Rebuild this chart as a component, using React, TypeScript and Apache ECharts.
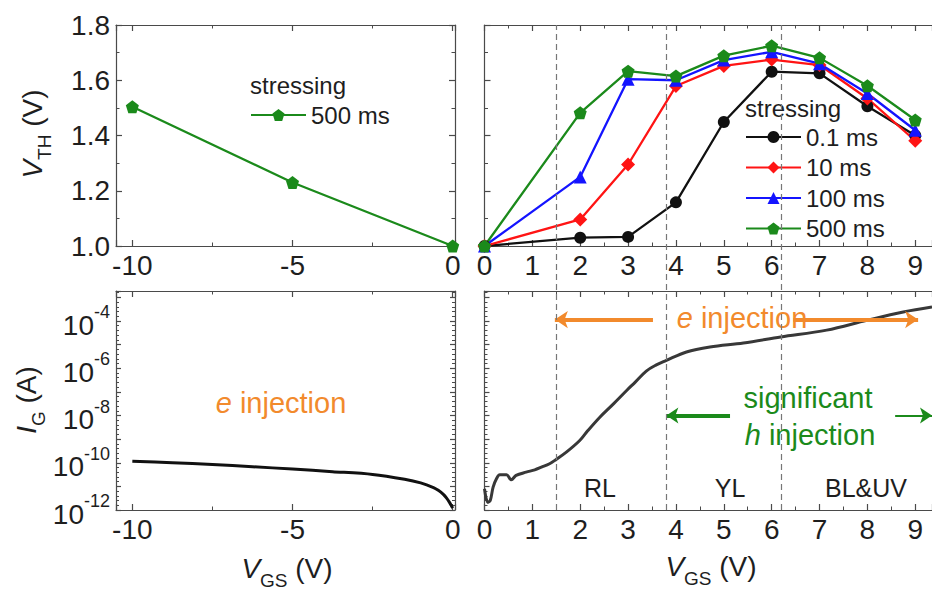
import React, { useEffect, useRef } from 'react';
import * as echarts from 'echarts';

const FONT = 'Liberation Sans, Arial, sans-serif';

// ---- Top-left: V_TH after negative V_GS stressing (500 ms)
const negVgs = [-10, -5, 0];
const negVth500 = [1.504, 1.23, 1.0];

// ---- Top-right: V_TH after positive V_GS stressing
const posVgs = [0, 2, 3, 4, 5, 6, 7, 8, 9];
const vth01 = [1.0, 1.03, 1.033, 1.158, 1.449, 1.631, 1.625, 1.506, 1.4];
const vth10 = [1.0, 1.096, 1.295, 1.579, 1.652, 1.675, 1.655, 1.534, 1.381];
const vth100 = [1.0, 1.25, 1.604, 1.6, 1.673, 1.703, 1.66, 1.552, 1.419];
const vth500 = [1.0, 1.482, 1.633, 1.615, 1.689, 1.725, 1.681, 1.58, 1.456];
const stressNames = ['0.1 ms', '10 ms', '100 ms', '500 ms'];

// ---- Bottom-left: I_G vs negative V_GS (A)
const igNegVgs = [-10, -8.75, -7.5, -6.25, -5, -3.75, -2.5, -1.5, -1, -0.6, -0.45, -0.3, -0.19, -0.1, 0];
const igNeg = [1.17e-10, 1.0e-10, 8.5e-11, 6.8e-11, 5.4e-11, 4.2e-11, 3.2e-11, 2.0e-11, 1.4e-11, 8.9e-12, 6.8e-12, 4.7e-12, 3.2e-12, 2.1e-12, 1.2e-12];

// ---- Bottom-right: I_G vs positive V_GS (A)
const igPosVgs = [0, 0.07, 0.12, 0.18, 0.25, 0.32, 0.46, 0.56, 0.66, 0.87, 1.05, 1.19, 1.36, 1.49, 1.71, 1.99, 2.16, 2.41, 2.7, 2.97, 3.15, 3.38, 3.58, 3.79, 4.22, 4.71, 5.41, 6.19, 7.15, 7.99, 8.75, 9.35];
const igPos = [7.9e-12, 2.1e-12, 2.5e-12, 9.3e-12, 2.1e-11, 3.1e-11, 3.1e-11, 1.9e-11, 2.9e-11, 4.0e-11, 5.0e-11, 6.5e-11, 9.1e-11, 1.35e-10, 2.8e-10, 8.7e-10, 2.3e-9, 8.5e-9, 3.2e-8, 1.15e-7, 2.6e-7, 7.6e-7, 1.35e-6, 2.1e-6, 4.9e-6, 7.9e-6, 1.17e-5, 2.1e-5, 4.1e-5, 1.07e-4, 2.4e-4, 3.9e-4];

// ---- Annotations (data space)
const regionBounds = [1.5, 3.8, 6.2];
const eArrowLevel = 1.15e-4;
const eArrows = [[3.52, 1.47], [6.45, 9.06]];
const hArrowLevel = 1.0e-8;
const hArrows = [[5.13, 3.8], [8.58, 9.35]];

const GREEN = '#1b8a1b';
const RED = '#ff1414';
const BLUE = '#1414ff';
const BLACK = '#111111';
const ORANGE = '#f28a2c';
const TXT = '#1e1e1e';
const AX = '#4a4a4a';

const PENTAGON = 'path://M10,0 L19.51,6.91 L15.88,18.09 L4.12,18.09 L0.49,6.91 Z';

const lg = (v: number) => Math.log10(v);
const zip = (xs: number[], ys: number[]) => xs.map((x, i) => [x, ys[i]]);

const axLine = { show: true, onZero: false, lineStyle: { color: AX, width: 1.2 } };
const majorTick = (len: number) => ({ show: true, inside: true, length: len, lineStyle: { color: AX, width: 1.2 } });
const minorTick = (n: number, len: number) => ({ show: true, splitNumber: n, length: len, lineStyle: { color: AX, width: 1 } });
const noSplit = { show: false };
const tickFont = { fontSize: 28, color: TXT, fontFamily: FONT };

function negX(gridIndex: number, position: string, labels: boolean) {
  return {
    type: 'value', gridIndex, position, min: -10.51, max: 0.072, splitNumber: 2,
    axisLine: axLine, axisTick: majorTick(6), minorTick: minorTick(2, 3.5), splitLine: noSplit, minorSplitLine: noSplit,
    axisLabel: {
      show: labels, ...tickFont, margin: 5,
      formatter: (v: number) => (Math.abs(v / 5 - Math.round(v / 5)) < 1e-6 ? String(Math.round(v)) : ''),
    },
  };
}
function posX(gridIndex: number, position: string, labels: boolean) {
  return {
    type: 'value', gridIndex, position, min: 0, max: 9.35, interval: 1,
    axisLine: axLine, axisTick: majorTick(6), minorTick: minorTick(2, 3.5), splitLine: noSplit, minorSplitLine: noSplit,
    axisLabel: {
      show: labels, ...tickFont, margin: 5,
      formatter: (v: number) => (Math.abs(v - Math.round(v)) < 1e-6 ? String(Math.round(v)) : ''),
    },
  };
}
function vthY(gridIndex: number, position: string, labels: boolean) {
  return {
    type: 'value', gridIndex, position, min: 1.0, max: 1.8, interval: 0.2,
    axisLine: axLine, axisTick: majorTick(6), minorTick: minorTick(2, 3.5), splitLine: noSplit, minorSplitLine: noSplit,
    axisLabel: { show: labels, ...tickFont, margin: 6, formatter: (v: number) => v.toFixed(1) },
  };
}
function igY(gridIndex: number, position: string, labels: boolean) {
  return {
    type: 'value', gridIndex, position, min: -12, max: -2.73, interval: 1,
    axisLine: axLine, axisTick: majorTick(5), minorTick: minorTick(5, 3), splitLine: noSplit, minorSplitLine: noSplit,
    axisLabel: {
      show: labels, margin: 6,
      formatter: (v: number) => {
        const r = Math.round(v);
        return Math.abs(v - r) < 1e-6 && r % 2 === 0 ? `{b|10}{s|${r}}` : '';
      },
      rich: {
        b: { fontSize: 28, lineHeight: 36, verticalAlign: 'bottom', color: TXT, fontFamily: FONT },
        s: { fontSize: 18, lineHeight: 18, verticalAlign: 'top', color: TXT, fontFamily: FONT },
      },
    },
  };
}

function titleText(x: number, y: number, main: string, sub: string, rest: string, rotate: boolean) {
  return {
    type: 'text', x, y, rotation: rotate ? Math.PI / 2 : 0, silent: true,
    style: {
      text: `{v|${main}}{s|${sub}}{n| ${rest}}`,
      align: 'center', verticalAlign: 'middle',
      rich: {
        v: { fontSize: 28, fontStyle: 'italic', lineHeight: 36, verticalAlign: 'top', fill: TXT, fontFamily: FONT },
        s: { fontSize: 19, lineHeight: 19, verticalAlign: 'bottom', fill: TXT, fontFamily: FONT },
        n: { fontSize: 28, lineHeight: 36, verticalAlign: 'top', fill: TXT, fontFamily: FONT },
      },
    },
  };
}
function plainText(x: number, y: number, text: string, fill: string, size: number, align = 'center') {
  return {
    type: 'text', x, y, silent: true,
    style: { text, fill, fontSize: size, fontFamily: FONT, align, verticalAlign: 'middle' },
  };
}
function italicLead(x: number, y: number, lead: string, rest: string, fill: string) {
  return {
    type: 'text', x, y, silent: true,
    style: {
      text: `{i|${lead}}{n| ${rest}}`, align: 'center', verticalAlign: 'middle',
      rich: {
        i: { fontSize: 29, fontStyle: 'italic', fill, fontFamily: FONT },
        n: { fontSize: 29, fill, fontFamily: FONT },
      },
    },
  };
}

function buildOption() {
  const grids = [
    { left: 116, top: 25, width: 339, height: 221 },
    { left: 484.5, top: 25, width: 447.5, height: 221 },
    { left: 116, top: 291, width: 339, height: 219 },
    { left: 484.5, top: 291, width: 447.5, height: 219 },
    { left: 484.5, top: 25, width: 447.5, height: 485 },
  ].map((g) => ({ ...g, containLabel: false, outerBoundsMode: 'none', show: false }));

  const xAxis = [
    negX(0, 'bottom', true),
    negX(0, 'top', false),
    posX(1, 'bottom', true),
    posX(1, 'top', false),
    negX(2, 'bottom', true),
    negX(2, 'top', false),
    posX(3, 'bottom', true),
    posX(3, 'top', false),
    { type: 'value', gridIndex: 4, min: 0, max: 9.35, show: false },
  ];
  const yAxis = [
    vthY(0, 'left', true),
    vthY(0, 'right', false),
    vthY(1, 'left', false),
    igY(2, 'left', true),
    igY(2, 'right', false),
    igY(3, 'left', false),
    { type: 'value', gridIndex: 4, min: 0, max: 1, show: false },
  ];

  const vthSeries = (name: string, ys: number[], color: string, symbol: string, size: number) => ({
    name, type: 'line', xAxisIndex: 2, yAxisIndex: 2, data: zip(posVgs, ys), z: 3,
    symbol, symbolSize: size, showSymbol: true,
    lineStyle: { color, width: 2.3 }, itemStyle: { color },
  });

  const series: any[] = [
    {
      name: '500 ms', type: 'line', xAxisIndex: 0, yAxisIndex: 0, data: zip(negVgs, negVth500), z: 3,
      symbol: PENTAGON, symbolSize: 13, lineStyle: { color: GREEN, width: 2.3 }, itemStyle: { color: GREEN },
    },
    vthSeries(stressNames[0], vth01, BLACK, 'circle', 12),
    vthSeries(stressNames[1], vth10, RED, 'diamond', 14),
    vthSeries(stressNames[2], vth100, BLUE, 'triangle', 13),
    vthSeries(stressNames[3], vth500, GREEN, PENTAGON, 13),
    {
      name: 'IG neg', type: 'line', xAxisIndex: 4, yAxisIndex: 3, z: 3,
      data: zip(igNegVgs, igNeg.map(lg)), showSymbol: false, symbol: 'none', smooth: 0.3,
      lineStyle: { color: BLACK, width: 3 },
    },
    {
      name: 'IG pos', type: 'line', xAxisIndex: 6, yAxisIndex: 5, z: 4,
      data: zip(igPosVgs, igPos.map(lg)), showSymbol: false, symbol: 'none', smooth: 0.35,
      lineStyle: { color: '#383838', width: 3 },
      markLine: {
        silent: true, symbol: ['none', 'arrow'], symbolSize: 13, label: { show: false },
        lineStyle: { color: ORANGE, width: 4, type: 'solid' },
        data: eArrows.map(([a, b]) => [
          { coord: [a, lg(eArrowLevel)] },
          { coord: [b, lg(eArrowLevel)] },
        ]),
      },
    },
    {
      name: 'h arrows', type: 'line', xAxisIndex: 6, yAxisIndex: 5, z: 3,
      data: [[0, -12]], showSymbol: false, symbol: 'none', lineStyle: { width: 0, opacity: 0 },
      markLine: {
        silent: true, symbol: ['none', 'arrow'], symbolSize: 12, label: { show: false },
        lineStyle: { color: GREEN, width: 4, type: 'solid' },
        data: hArrows.map(([a, b], i) => [
          { coord: [a, lg(hArrowLevel)], lineStyle: { color: GREEN, width: i === 0 ? 4 : 2, type: 'solid' } },
          { coord: [b, lg(hArrowLevel)] },
        ]),
      },
    },
    {
      name: 'regions', type: 'line', xAxisIndex: 8, yAxisIndex: 6, z: 1,
      data: [[0, 0]], showSymbol: false, symbol: 'none', lineStyle: { width: 0, opacity: 0 },
      markLine: {
        silent: true, symbol: ['none', 'none'], label: { show: false },
        lineStyle: { color: '#777', width: 1.2, type: [6, 4] },
        data: regionBounds.map((x) => ({ xAxis: x })),
      },
    },
  ];

  const legendText = { fontSize: 24, color: TXT, fontFamily: FONT, lineHeight: 24 };

  return {
    animation: false,
    backgroundColor: '#ffffff',
    textStyle: { fontFamily: FONT },
    grid: grids,
    xAxis,
    yAxis,
    series,
    legend: [
      {
        data: ['500 ms'], left: 250, top: 103, orient: 'vertical', padding: 0,
        itemWidth: 55, itemHeight: 15, itemGap: 7, selectedMode: false, textStyle: legendText,
      },
      {
        data: stressNames, left: 745, top: 125, orient: 'vertical', padding: 0,
        itemWidth: 55, itemHeight: 15, itemGap: 6.5, selectedMode: false, textStyle: legendText,
      },
    ],
    graphic: [
      plainText(250, 85, 'stressing', TXT, 24, 'left'),
      plainText(745, 108, 'stressing', TXT, 24, 'left'),
      titleText(36, 134, 'V', 'TH', '(V)', true),
      titleText(30, 400, 'I', 'G', '(A)', true),
      titleText(287, 572, 'V', 'GS', '(V)', false),
      titleText(711, 570, 'V', 'GS', '(V)', false),
      italicLead(281, 403, 'e', 'injection', ORANGE),
      italicLead(742, 318, 'e', 'injection', ORANGE),
      plainText(808, 398, 'significant', GREEN, 29),
      italicLead(810, 435, 'h', 'injection', GREEN),
      plainText(600, 488, 'RL', TXT, 25),
      plainText(730, 488, 'YL', TXT, 25),
      plainText(866, 488, 'BL&UV', TXT, 25),
    ],
  };
}

export default function App() {
  const ref = useRef<HTMLDivElement>(null);
  useEffect(() => {
    if (!ref.current) return;
    const chart = echarts.init(ref.current, null, { renderer: 'svg' });
    chart.setOption(buildOption() as any);
    return () => chart.dispose();
  }, []);
  return (
    <div
      ref={ref}
      style={{ position: 'absolute', left: 0, top: 0, width: 932, height: 593, background: '#fff' }}
    />
  );
}
